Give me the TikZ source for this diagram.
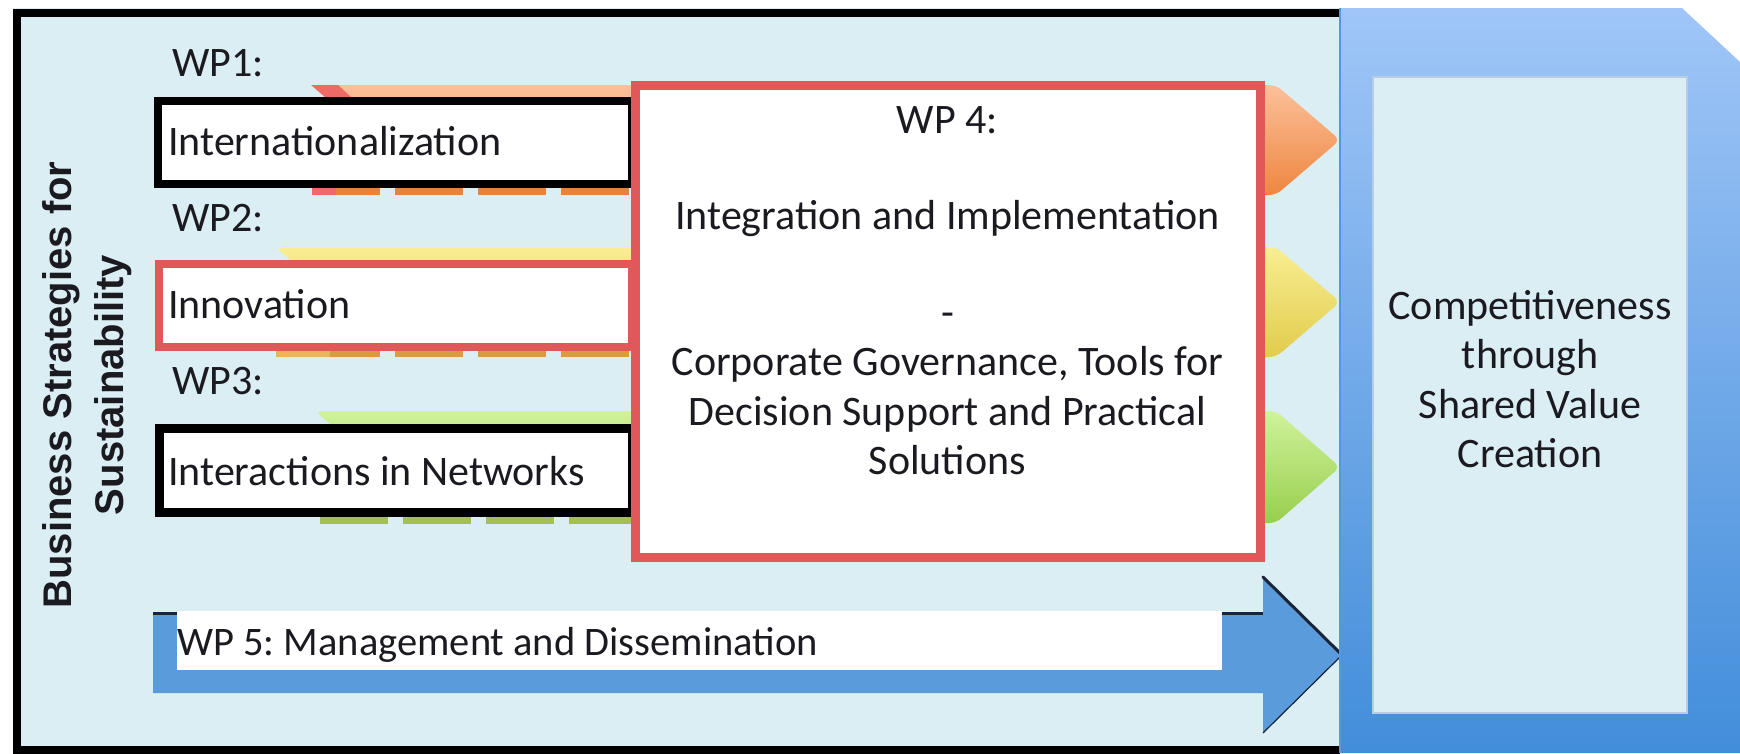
\documentclass[tikz,border=0pt]{standalone}
\usepackage{fontspec}
\setmainfont{Carlito}
\newfontfamily\arialfont{Liberation Sans}
\frenchspacing
\definecolor{bgc}{HTML}{DAEEF3}
\definecolor{txtc}{HTML}{1A1A20}
\definecolor{redc}{HTML}{E05858}
\definecolor{ortop}{HTML}{FCC09A}
\definecolor{orbot}{HTML}{EE8640}
\definecolor{orsh}{HTML}{E5843E}
\definecolor{yetop}{HTML}{F8EE92}
\definecolor{yebot}{HTML}{E2CC4C}
\definecolor{yesh}{HTML}{D99A42}
\definecolor{grtop}{HTML}{CFF39A}
\definecolor{grbot}{HTML}{98CE4E}
\definecolor{grsh}{HTML}{A4C052}
\definecolor{redtip}{HTML}{EE6A66}
\definecolor{bluetop}{HTML}{A0C6F7}
\definecolor{bluebot}{HTML}{428DDA}
\definecolor{wpblue}{HTML}{5A9BDC}
\definecolor{darkln}{HTML}{1A2436}
\definecolor{innerln}{HTML}{B9CDE2}
\begin{document}
\begin{tikzpicture}[x=1pt,y=-1pt,
  txt/.style={font=\fontsize{42}{49.5}\selectfont, text=txtc, inner sep=0pt},
  sidetxt/.style={font=\arialfont\bfseries\fontsize{40}{52}\selectfont, text=txtc, inner sep=0pt, align=center, rotate=90},
  boxline/.style={fill=white, line width=8pt},
  chev/.style={rounded corners=7pt},
  shdash/.style={line width=7pt, dash pattern=on 68pt off 15pt}
]
\useasboundingbox (0,0) rectangle (1740,753);
\fill[white] (0,0) rectangle (1740,753);
% background and frame
\fill[bgc] (13,8) rectangle (1340,753);
\draw[line width=8pt] (1340,12.5) -- (17,12.5) -- (17,750) -- (1340,750);

% WP1 chevron (orange)
\shade[top color=ortop, bottom color=orbot, chev] (311,85) -- (1276,85) -- (1340,140) -- (1276,195) -- (311,195) -- (377,140) -- cycle;
\fill[redtip] (311,85) -- (338,85) -- (351,97) -- (325,97) -- cycle;
\fill[bgc] (300,186) rectangle (640,196);
\draw[orsh, shdash] (312,191.5) -- (640,191.5);
\draw[redtip, line width=7pt] (312,191.5) -- (336,191.5);

% WP2 chevron (yellow)
\shade[top color=yetop, bottom color=yebot, chev] (275,247) -- (1276,247) -- (1340,302) -- (1276,357) -- (275,357) -- (341,302) -- cycle;
\fill[bgc] (265,349) rectangle (640,358);
\draw[yesh, shdash] (312,353.5) -- (640,353.5);
\draw[yesh!65!yetop, line width=7pt] (276,353.5) -- (330,353.5);

% WP3 chevron (green)
\shade[top color=grtop, bottom color=grbot, chev] (315,411) -- (1276,411) -- (1340,467) -- (1276,523) -- (315,523) -- (381,467) -- cycle;
\fill[bgc] (305,515) rectangle (640,524);
\draw[grsh, shdash] (320,520) -- (640,520);

% left boxes
\draw[boxline, draw=black] (158,101) rectangle (632,184);
\draw[boxline, draw=redc] (159,264) rectangle (632,347);
\draw[boxline, draw=black, line width=9pt] (159,428) rectangle (632,512);

\node[txt, anchor=base west] (l1) at (172,76) {WP1:};
\node[txt, anchor=base west] (l2) at (172,231) {WP2:};
\node[txt, anchor=base west] (l3) at (172,394) {WP3:};
\node[txt, anchor=base west] (t1) at (168,155) {Internationalization};
\node[txt, anchor=base west] (t2) at (168,318) {Innovation};
\node[txt, anchor=base west] (t3) at (168,485) {Interactions in Networks};

% WP4 box
\draw[fill=white, draw=redc, line width=9pt] (635,85) rectangle (1260,557);
\node[txt, align=center, anchor=north] (wp4) at (947.5,106) {WP 4:\\[47pt]Integration and Implementation\\[47pt]-\\Corporate Governance, Tools for\\Decision Support and Practical\\Solutions};

% WP5 arrow
\fill[wpblue] (153,613) -- (1263,613) -- (1263,577) -- (1342,655) -- (1263,733) -- (1263,693) -- (153,693) -- cycle;
\draw[darkln, line width=3pt] (153,613) -- (1263,613);
\draw[darkln, line width=3pt, line cap=round] (1263,577) -- (1342,655);
\draw[darkln, line width=1.2pt] (1342,655) -- (1263,733);
\fill[white] (177,611) rectangle (1222,670);
\node[txt, font=\fontsize{40.5}{49}\selectfont, anchor=base west] (t5) at (177,655) {WP 5: Management and Dissemination};

% right blue shape
\shade[top color=bluetop, bottom color=bluebot] (1340,8) -- (1682,8) -- (1740,62) -- (1740,753) -- (1340,753) -- cycle;
\draw[bluebot!80!bluetop, line width=1.5pt] (1340,8) -- (1340,753);
\draw[fill=bgc, draw=innerln, line width=1.5pt] (1373,77) rectangle (1687,713);
\node[txt, align=center, anchor=north] (cv) at (1530,290) {Competitiveness\\through\\Shared Value\\Creation};

% side title
\node[sidetxt] (side) at (87,385) {Business Strategies for\\Sustainability};
\end{tikzpicture}
\end{document}
